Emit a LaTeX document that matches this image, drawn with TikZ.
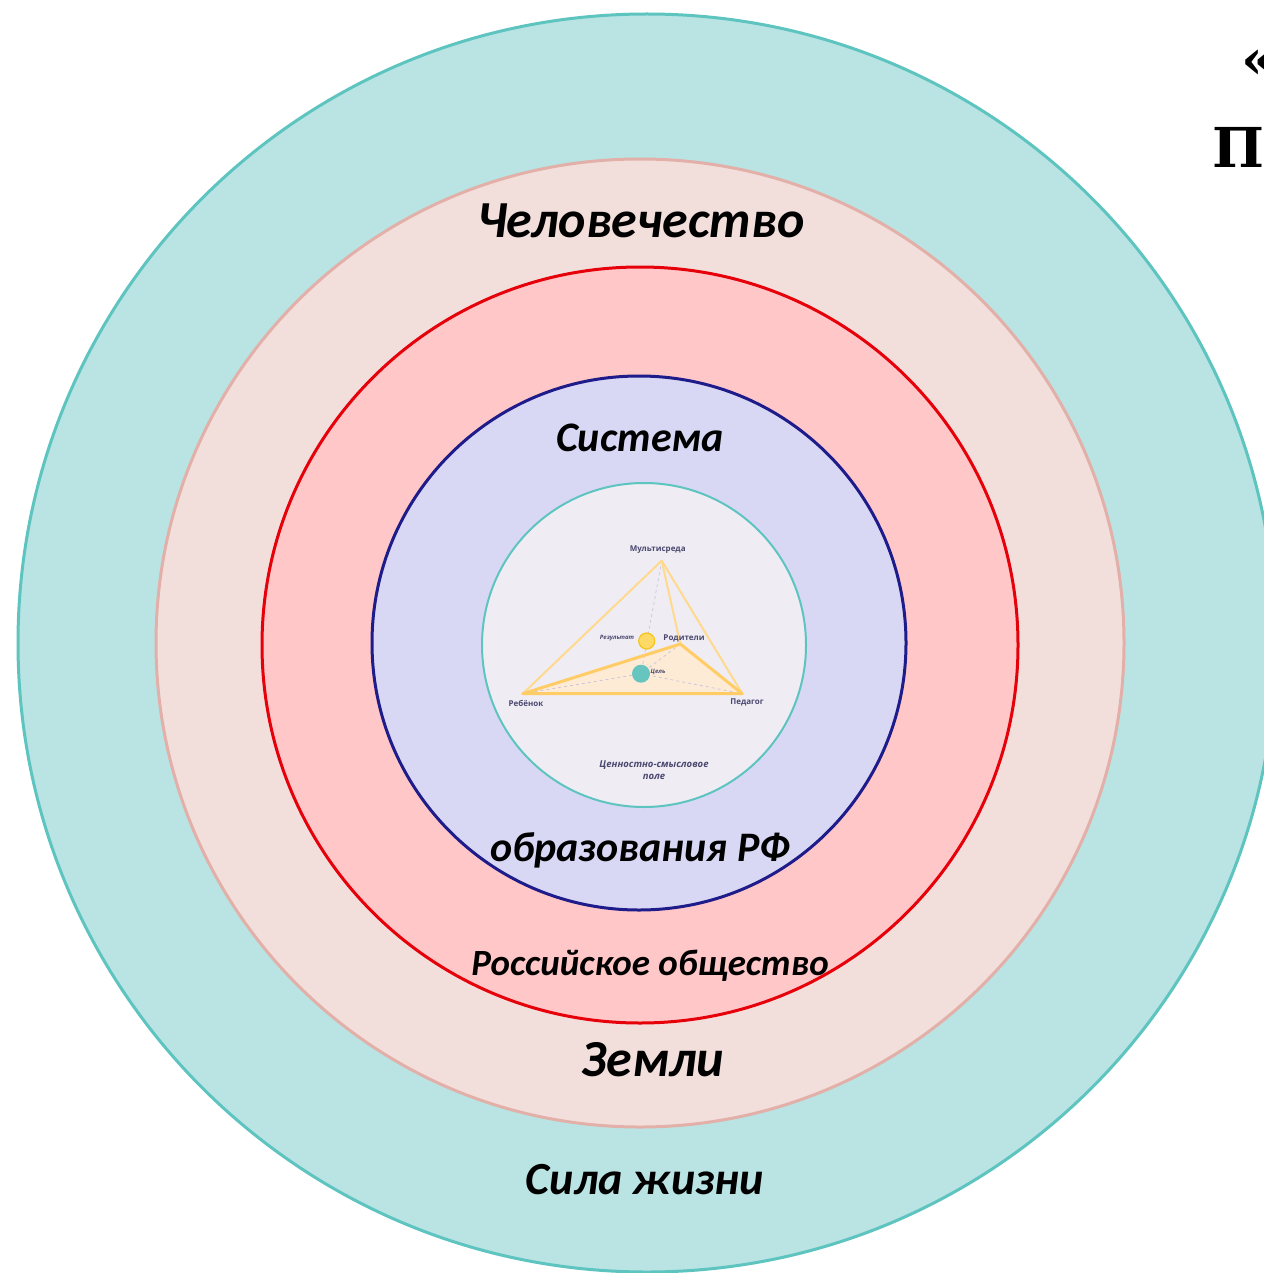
\documentclass[tikz,border=0pt]{standalone}
\usepackage{fontspec}
\setmainfont{Carlito}
\newfontfamily\diagfont{Open Sans}
\newfontfamily\slabfont{DejaVu Serif}
\usepackage{tikz}
\definecolor{tealfill}{HTML}{B9E4E3}
\definecolor{tealline}{HTML}{5EC4BF}
\definecolor{pinkfill}{HTML}{F2DFDC}
\definecolor{pinkline}{HTML}{E2B0A8}
\definecolor{redfill}{HTML}{FFC7C7}
\definecolor{redline}{HTML}{E6000A}
\definecolor{navyfill}{HTML}{D9D8F4}
\definecolor{navyline}{HTML}{1E1B8A}
\definecolor{corefill}{HTML}{EFEDF3}
\definecolor{vtext}{HTML}{4B4870}
\definecolor{edgepale}{HTML}{FFD98C}
\definecolor{edgebase}{HTML}{FFCC66}
\definecolor{basefill}{HTML}{FEEBD6}
\definecolor{dashgray}{HTML}{C9C2D9}
\definecolor{resultfill}{HTML}{FFD966}
\definecolor{resultline}{HTML}{F5C518}
\definecolor{goalfill}{HTML}{66C5BF}
\tikzset{
    ring/.style={line width=3pt},
    circlabel/.style={inner sep=0pt,anchor=base,text=black},
    vlabel/.style={inner sep=0pt,text=vtext,font=\diagfont\bfseries\fontsize{8}{10}\selectfont},
    smalllabel/.style={inner sep=0pt,text=vtext,font=\diagfont\bfseries\itshape\fontsize{6}{7}\selectfont},
    paleedge/.style={draw=edgepale,line width=2pt,line join=round},
    baseedge/.style={draw=edgebase,line width=3pt,line join=round},
    hiddenedge/.style={draw=dashgray,dashed,line width=0.7pt}
}

\begin{document}
\begin{tikzpicture}[x=1pt,y=-1pt]
\useasboundingbox (0,0) rectangle (1263,1273);
\fill[white] (0,0) rectangle (1263,1273);
% rings
\draw[ring,draw=tealline,fill=tealfill] (647,643) circle (629pt);
\draw[ring,draw=pinkline,fill=pinkfill] (640,643) circle (484pt);
\draw[ring,draw=redline,fill=redfill] (640,645) circle (378pt);
\draw[ring,draw=navyline,fill=navyfill] (639,643) circle (267pt);
\draw[line width=2pt,draw=tealline,fill=corefill] (644,645) circle (162pt);
% ring texts
\node[circlabel,font=\bfseries\itshape\fontsize{52}{60}\selectfont] (humanity) at (641,237) {Человечество};
\node[circlabel,font=\bfseries\itshape\fontsize{42}{50}\selectfont] (system) at (640,451) {Система};
\node[circlabel,font=\bfseries\itshape\fontsize{42}{50}\selectfont] (education) at (640,861) {образования РФ};
\node[circlabel,font=\bfseries\itshape\fontsize{37}{44}\selectfont] (society) at (650,975) {Российское общество};
\node[circlabel,font=\bfseries\itshape\fontsize{52}{62}\selectfont] (earth) at (653,1076) {Земли};
\node[circlabel,font=\bfseries\itshape\fontsize{46}{54}\selectfont] (lifeforce) at (645,1194) {Сила жизни};
% title letters, cut by the page edge
\node[anchor=base west,inner sep=0pt,font=\slabfont\bfseries\fontsize{55}{60}\selectfont] (quote) at (1241,79) {«};
\node[anchor=base west,inner sep=0pt,font=\slabfont\bfseries\fontsize{55}{60}\selectfont] (titleletter) at (1212,168) {П};
% pyramid
\coordinate (multi) at (661.7,560.7);
\coordinate (child) at (522.7,693.7);
\coordinate (teacher) at (742.3,693.7);
\coordinate (parents) at (680.3,644);
\coordinate (goal) at (641,673.7);
\coordinate (result) at (646.7,641);
\fill[basefill] (child) -- (parents) -- (teacher) -- cycle;
\draw[hiddenedge] (multi) -- (goal);
\draw[hiddenedge] (child) -- (goal) -- (teacher);
\draw[hiddenedge] (parents) -- (goal);
\draw[paleedge] (child) -- (multi) -- (teacher);
\draw[paleedge] (multi) -- (parents);
\draw[baseedge] (child) -- (parents) -- (teacher) -- cycle;
\draw[line width=1.2pt,draw=resultline,fill=resultfill] (result) circle (8pt);
\fill[goalfill] (goal) circle (9pt);
\node[vlabel] (multilabel) at (657.7,550) {Мультисреда};
\node[vlabel] (parentslabel) at (684,638) {Родители};
\node[vlabel] (childlabel) at (526,703) {Ребёнок};
\node[vlabel] (teacherlabel) at (747,702) {Педагог};
\node[smalllabel] (resultlabel) at (617,638) {Результат};
\node[smalllabel] (goallabel) at (658,672) {Цель};
\node[smalllabel,font=\diagfont\bfseries\itshape\fontsize{9.5}{12.5}\selectfont,align=center] (valuelabel) at (654,770) {Ценностно-смысловое\\поле};
\end{tikzpicture}
\end{document}
